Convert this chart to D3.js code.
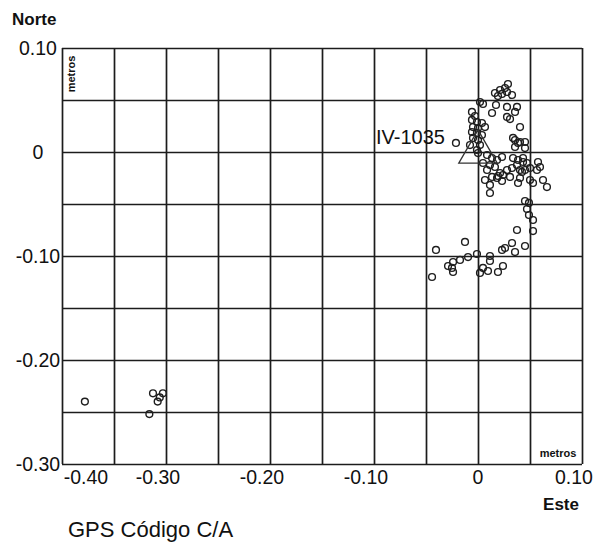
<!DOCTYPE html>
<html>
<head>
<meta charset="utf-8">
<script src="https://cdn.jsdelivr.net/npm/d3@7"></script>
<style>
  html, body { margin: 0; padding: 0; background: #fff; }
  svg { display: block; }
  text { font-family: "Liberation Sans", Arial, sans-serif; fill: #111; }
</style>
</head>
<body>
<script>
// ---- data (metros) ----
const east = [
  0.0288, 0.0260, 0.0212, 0.0163, 0.0231, 0.0279, 0.0327, 0.0192, 0.0019, 0.0048,
  0.0173, 0.0135, 0.0279, 0.0375, 0.0356, 0.0279, 0.0308, -0.0058, -0.0029, -0.0058,
  -0.0010, 0.0038, -0.0048, 0.0000, 0.0067, -0.0058, -0.0010, 0.0038, -0.0048, 0.0000,
  0.0019, -0.0010, -0.0077, 0.0404, 0.0337, 0.0404, 0.0452, 0.0356, 0.0452, -0.0212,
  0.0000, 0.0087, 0.0135, 0.0183, 0.0231, 0.0115, 0.0163, 0.0087, 0.0212, 0.0135,
  0.0279, 0.0337, 0.0385, 0.0433, 0.0471, 0.0375, 0.0327, 0.0404, 0.0452, 0.0500,
  0.0577, 0.0567, 0.0308, 0.0404, 0.0500, 0.0625, 0.0067, 0.0115, 0.0192, 0.0240,
  0.0529, 0.0663, 0.0115, 0.0385, 0.0231, 0.0452, 0.0490, 0.0471, 0.0490, 0.0529,
  0.0375, 0.0529, -0.0125, 0.0327, 0.0452, 0.0260, 0.0231, 0.0356, -0.0404, 0.0115,
  -0.0010, -0.0096, -0.0173, -0.0240, -0.0288, -0.0250, -0.0240, 0.0115, 0.0240, 0.0048,
  0.0096, 0.0019, 0.0192, -0.0442, 0.0048, 0.0183, 0.0423, 0.0596, 0.0433, 0.0385,
  0.0356,
  -0.378, -0.3125, -0.308, -0.306, -0.303, -0.316
];
const north = [
  0.0654, 0.0615, 0.0596, 0.0567, 0.0558, 0.0577, 0.0548, 0.0538, 0.0481, 0.0462,
  0.0452, 0.0375, 0.0433, 0.0433, 0.0385, 0.0337, 0.0317, 0.0385, 0.0346, 0.0308,
  0.0288, 0.0279, 0.0240, 0.0231, 0.0240, 0.0192, 0.0183, 0.0163, 0.0135, 0.0115,
  0.0067, 0.0019, 0.0067, 0.0240, 0.0135, 0.0096, 0.0096, 0.0048, 0.0038, 0.0087,
  -0.0010, -0.0029, -0.0058, -0.0077, -0.0048, -0.0125, -0.0144, -0.0173, -0.0202, -0.0240,
  -0.0173, -0.0058, -0.0077, -0.0058, -0.0106, -0.0125, -0.0154, -0.0173, -0.0173, -0.0154,
  -0.0096, -0.0173, -0.0240, -0.0250, -0.0269, -0.0269, -0.0269, -0.0317, -0.0231, -0.0221,
  -0.0298, -0.0337, -0.0394, -0.0298, -0.0279, -0.0471, -0.0490, -0.0548, -0.0606, -0.0654,
  -0.0750, -0.0760, -0.0865, -0.0875, -0.0904, -0.0923, -0.0942, -0.0962, -0.0942, -0.1000,
  -0.0981, -0.1010, -0.1038, -0.1058, -0.1096, -0.1115, -0.1154, -0.1048, -0.1096, -0.1115,
  -0.1144, -0.1163, -0.1154, -0.1202, -0.0106, -0.0250, -0.0192, -0.0144, -0.0096, 0.0087,
  0.0115,
  -0.240, -0.232, -0.240, -0.236, -0.232, -0.252
];
const station = { name: "IV-1035", east: 0.0, north: 0.0 };
const xTicks = [-0.40, -0.30, -0.20, -0.10, 0, 0.10];
const xTickLabels = ["-0.40", "-0.30", "-0.20", "-0.10", "0", "0.10"];
const yTicks = [0.10, 0, -0.10, -0.20, -0.30];
const yTickLabels = ["0.10", "0", "-0.10", "-0.20", "-0.30"];
const gridStep = 0.05;

// ---- layout ----
const W = 599, H = 543;
const plot = { left: 62, right: 582, top: 48, bottom: 464 };

const svg = d3.select("body").append("svg").attr("width", W).attr("height", H);

const x = d3.scaleLinear().domain([-0.40, 0.10]).range([plot.left, plot.right]);
const y = d3.scaleLinear().domain([-0.30, 0.10]).range([plot.bottom, plot.top]);

const xGrid = d3.range(-0.40, 0.10 + 1e-9, gridStep);
const yGrid = d3.range(-0.30, 0.10 + 1e-9, gridStep);

// grid
const g = svg.append("g").attr("stroke", "#1c1c1c").attr("stroke-width", 1.7);
g.selectAll("line.v").data(xGrid).join("line")
  .attr("x1", d => Math.round(x(d)) + 0.5).attr("x2", d => Math.round(x(d)) + 0.5)
  .attr("y1", plot.top).attr("y2", plot.bottom);
g.selectAll("line.h").data(yGrid).join("line")
  .attr("y1", d => Math.round(y(d)) + 0.5).attr("y2", d => Math.round(y(d)) + 0.5)
  .attr("x1", plot.left).attr("x2", plot.right);

// points
const pts = east.map((e, i) => ({ e, n: north[i] }));
svg.append("g").selectAll("circle").data(pts).join("circle")
  .attr("cx", d => x(d.e)).attr("cy", d => y(d.n)).attr("r", 3.4)
  .attr("fill", "none").attr("stroke", "#1e1e1e").attr("stroke-width", 1.4);

// station triangle
svg.append("path")
  .attr("d", d3.symbol().type(d3.symbolTriangle).size(640)())
  .attr("transform", `translate(${x(station.east)},${y(station.north)})`)
  .attr("fill", "none").attr("stroke", "#333").attr("stroke-width", 1.3);
svg.append("text").attr("x", x(station.east) - 102).attr("y", y(station.north) - 8)
  .attr("font-size", 20).text(station.name);

// y tick labels
svg.append("g").selectAll("text").data(yTicks).join("text")
  .attr("x", 38).attr("y", d => y(d)).attr("dy", "0.36em")
  .attr("text-anchor", "middle").attr("font-size", 19.5)
  .text((d, i) => yTickLabels[i]);

// x tick labels
svg.append("g").selectAll("text").data(xTicks).join("text")
  .attr("x", (d, i) => i === 0 ? x(d) + 24 : (d === 0 ? x(d) : x(d) - 8))
  .attr("y", 484)
  .attr("text-anchor", "middle").attr("font-size", 19.5)
  .text((d, i) => xTickLabels[i]);

// axis titles
svg.append("text").attr("x", 12).attr("y", 25).attr("font-size", 17)
  .attr("font-weight", "bold").text("Norte");
svg.append("text").attr("x", 579).attr("y", 510).attr("font-size", 17)
  .attr("font-weight", "bold").attr("text-anchor", "end").text("Este");
svg.append("text").attr("transform", `translate(75,74) rotate(-90)`)
  .attr("font-size", 11).attr("font-weight", "bold").attr("text-anchor", "middle").text("metros");
svg.append("text").attr("x", 558).attr("y", 457).attr("font-size", 11)
  .attr("font-weight", "bold").attr("text-anchor", "middle").text("metros");

// caption
svg.append("text").attr("x", 68).attr("y", 537).attr("font-size", 22).text("GPS Código C/A");
</script>
</body>
</html>
